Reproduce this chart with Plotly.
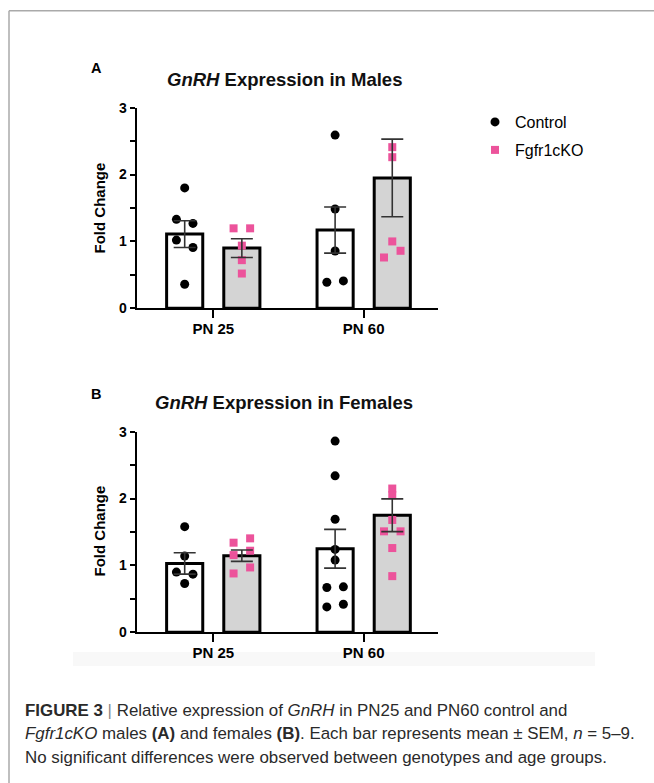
import plotly.graph_objects as go

W, H = 654, 783
FONT = "Liberation Sans"

# ---------------- data ----------------
categories = ["PN 25", "PN 60"]
cat_index = [0, 1]

# Males (panel A)
m_ctrl_mean = [1.11, 1.17]
m_ctrl_sem = [0.20, 0.345]
m_ko_mean = [0.90, 1.95]
m_ko_sem = [0.14, 0.58]
m_ctrl_pts = [[1.80, 1.33, 1.27, 1.02, 0.91, 0.36],
              [2.59, 1.485, 0.857, 0.39, 0.41]]
m_ko_pts = [[1.196, 1.196, 0.937, 0.72, 0.52],
            [2.41, 2.26, 1.00, 0.86, 0.76]]

# Females (panel B)
f_ctrl_mean = [1.03, 1.25]
f_ctrl_sem = [0.16, 0.29]
f_ko_mean = [1.145, 1.75]
f_ko_sem = [0.085, 0.245]
f_ctrl_pts = [[1.58, 1.14, 0.90, 0.87, 0.73],
              [2.86, 2.34, 1.69, 1.24, 1.08, 0.67, 0.68, 0.38, 0.42]]
f_ko_pts = [[1.34, 1.405, 1.22, 1.155, 0.97, 0.88],
            [2.15, 2.05, 1.68, 1.51, 1.51, 1.26, 0.84]]

# horizontal jitter side of each point (-1 left, 0 centre, +1 right)
m_ctrl_side = [[0, -1, 1, -1, 1, 0], [0, 0, 0, -1, 1]]
m_ko_side = [[-1, 1, 0, 0, 0], [0, 0, 0, 1, -1]]
f_ctrl_side = [[0, 0, -1, 1, 0], [0, 0, 0, 0, 0, -1, 1, -1, 1]]
f_ko_side = [[-1, 1, 1, -1, 1, -1], [0, 0, 0, -1, 1, 0, 0]]

y_ticks = [0, 1, 2, 3]
y_minor = [0.5, 1.5, 2.5]

# ---------------- styling ----------------
GROUP_OFF = 0.19
JIT = 0.055
PINK = "#EC539B"
KO_FILL = "#D4D4D4"

fig = go.Figure()


def add_panel(xa, ya, ctrl_mean, ctrl_sem, ko_mean, ko_sem, ctrl_pts, ko_pts,
              ctrl_side, ko_side, legend_on):
    fig.add_trace(go.Bar(x=cat_index, y=ctrl_mean, xaxis=xa, yaxis=ya,
                         offsetgroup="c", marker=dict(color="white",
                         line=dict(color="black", width=3)), showlegend=False,
                         hoverinfo="skip"))
    fig.add_trace(go.Bar(x=cat_index, y=ko_mean, xaxis=xa, yaxis=ya,
                         offsetgroup="k", marker=dict(color=KO_FILL,
                         line=dict(color="black", width=3)), showlegend=False,
                         hoverinfo="skip"))
    cx, cy = [], []
    for i, (vals, sides) in enumerate(zip(ctrl_pts, ctrl_side)):
        for v, s in zip(vals, sides):
            cx.append(cat_index[i] - GROUP_OFF + s * JIT)
            cy.append(v)
    kx, ky = [], []
    for i, (vals, sides) in enumerate(zip(ko_pts, ko_side)):
        for v, s in zip(vals, sides):
            kx.append(cat_index[i] + GROUP_OFF + s * JIT)
            ky.append(v)
    fig.add_trace(go.Scatter(x=cx, y=cy, xaxis=xa, yaxis=ya, mode="markers",
                             name="Control", legend="legend",
                             marker=dict(symbol="circle", size=9, color="black"),
                             showlegend=legend_on, cliponaxis=False))
    fig.add_trace(go.Scatter(x=kx, y=ky, xaxis=xa, yaxis=ya, mode="markers",
                             name="Fgfr1cKO", legend="legend2",
                             marker=dict(symbol="square", size=8, color=PINK),
                             showlegend=legend_on, cliponaxis=False))
    fig.add_trace(go.Scatter(x=[c - GROUP_OFF for c in cat_index], y=ctrl_mean,
                             xaxis=xa, yaxis=ya, mode="markers",
                             marker=dict(size=1, color="rgba(0,0,0,0)"),
                             error_y=dict(type="data", array=ctrl_sem, color="#333333",
                                          thickness=1.6, width=11),
                             showlegend=False, hoverinfo="skip", cliponaxis=False))
    fig.add_trace(go.Scatter(x=[c + GROUP_OFF for c in cat_index], y=ko_mean,
                             xaxis=xa, yaxis=ya, mode="markers",
                             marker=dict(size=1, color="rgba(0,0,0,0)"),
                             error_y=dict(type="data", array=ko_sem, color="#333333",
                                          thickness=1.6, width=11),
                             showlegend=False, hoverinfo="skip", cliponaxis=False))


add_panel("x", "y", m_ctrl_mean, m_ctrl_sem, m_ko_mean, m_ko_sem,
          m_ctrl_pts, m_ko_pts, m_ctrl_side, m_ko_side, True)
add_panel("x2", "y2", f_ctrl_mean, f_ctrl_sem, f_ko_mean, f_ko_sem,
          f_ctrl_pts, f_ko_pts, f_ctrl_side, f_ko_side, False)

x_dom = [136.7 / W, 438 / W]
yA = [1 - 308.3 / H, 1 - 107.7 / H]
yB = [1 - 632.3 / H, 1 - 431.7 / H]

xax = dict(range=[-0.509, 1.494], tickvals=cat_index, ticktext=categories,
           showgrid=False, zeroline=False, showline=True, linecolor="black",
           linewidth=2, ticks="outside", ticklen=8, tickwidth=2, tickcolor="black",
           ticklabelstandoff=-2,
           tickfont=dict(family=FONT, size=15, color="black", weight="bold"),
           automargin=False, fixedrange=True)
yax = dict(range=[0, 3], tickvals=y_ticks, ticktext=[str(t) for t in y_ticks],
           showgrid=False, zeroline=False, showline=True, linecolor="black",
           linewidth=2, ticks="outside", ticklen=5, tickwidth=2, tickcolor="black",
           tickfont=dict(family=FONT, size=14, color="black", weight="bold"),
           minor=dict(tickvals=y_minor, ticks="outside", ticklen=5, tickwidth=2,
                      tickcolor="black"),
           automargin=False, fixedrange=True)


def ann(x, y, text, size, color="black", xanchor="center", **kw):
    return dict(x=x / W, y=1 - y / H, xref="paper", yref="paper", text=text,
                showarrow=False, xanchor=xanchor, yanchor="middle",
                font=dict(family=FONT, size=size, color=color), **kw)


annotations = []
for letter, ly, title, ty in [("A", 68, "<i>GnRH</i> Expression in Males", 79),
                              ("B", 394, "<i>GnRH</i> Expression in Females", 402)]:
    annotations.append(ann(96, ly, "<b>%s</b>" % letter, 14.5))
    annotations.append(ann(284, ty, "<b>%s</b>" % title, 18.5, "#111111"))
for cy in [208.5, 531.5]:
    annotations.append(ann(99, cy, "<b>Fold Change</b>", 15, textangle=-90))

caption = [
    ("<b>FIGURE 3</b> <span style='color:#888888'>|</span> Relative expression of "
     "<i>GnRH</i> in PN25 and PN60 control and", 710),
    ("<i>Fgfr1cKO</i> males <b>(A)</b> and females <b>(B)</b>. Each bar represents "
     "mean ± SEM, <i>n</i> = 5–9.", 733.5),
    ("No significant differences were observed between genotypes and age groups.", 757),
]
for txt, cy in caption:
    annotations.append(ann(23, cy, txt, 16.9, "#2a2a2a", xanchor="left"))

shapes = [
    dict(type="line", xref="paper", yref="paper", x0=9 / W, x1=1, y0=1 - 10.7 / H,
         y1=1 - 10.7 / H, line=dict(color="#AAAAAA", width=1.5)),
    dict(type="line", xref="paper", yref="paper", x0=9 / W, x1=9 / W, y0=0,
         y1=1 - 10.7 / H, line=dict(color="#AAAAAA", width=1.5)),
    dict(type="rect", xref="paper", yref="paper", x0=73 / W, x1=595 / W,
         y0=1 - 666 / H, y1=1 - 652 / H, fillcolor="#F8F8F8", line=dict(width=0),
         layer="below"),
]

fig.update_layout(
    width=W, height=H, autosize=False,
    margin=dict(l=0, r=0, t=0, b=0, pad=0, autoexpand=False),
    paper_bgcolor="white", plot_bgcolor="white",
    barmode="group", bargap=0.24, bargroupgap=0.368,
    xaxis=dict(domain=x_dom, anchor="y", **xax),
    yaxis=dict(domain=yA, anchor="x", **yax),
    xaxis2=dict(domain=x_dom, anchor="y2", **xax),
    yaxis2=dict(domain=yB, anchor="x2", **yax),
    legend=dict(x=475 / W, y=1 - 122 / H, xanchor="left", yanchor="middle",
                font=dict(family=FONT, size=16, color="black"),
                bgcolor="rgba(0,0,0,0)"),
    legend2=dict(x=475 / W, y=1 - 150 / H, xanchor="left", yanchor="middle",
                 font=dict(family=FONT, size=16, color="black"),
                 bgcolor="rgba(0,0,0,0)"),
    annotations=annotations, shapes=shapes,
    font=dict(family=FONT),
)

post = ("document.documentElement.style.margin='0';"
        "document.documentElement.style.overflow='hidden';"
        "document.body.style.margin='0';"
        "document.body.style.padding='0';"
        "document.body.style.overflow='hidden';")

fig.write_html("out.html",
               config={"displayModeBar": False, "responsive": False},
               post_script=post)
